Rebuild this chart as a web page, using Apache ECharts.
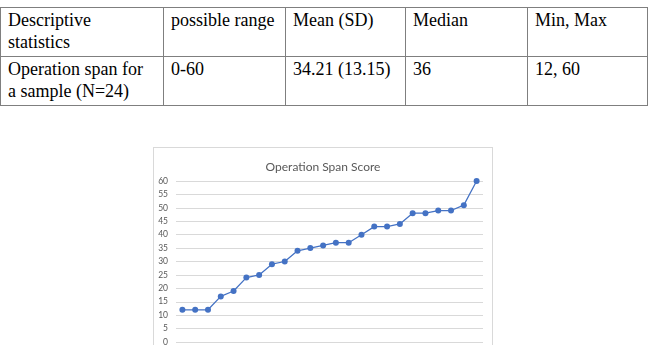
<!DOCTYPE html>
<html>
<head>
<meta charset="utf-8">
<script src="https://cdn.jsdelivr.net/npm/echarts@6/dist/echarts.min.js"></script>
<style>
  html, body { margin: 0; padding: 0; background: #fff; overflow: hidden; width: 657px; height: 345px; }
  #stats { position: absolute; left: 0; top: 7px; border-collapse: collapse; table-layout: fixed;
    font-family: "Liberation Serif", "Times New Roman", serif; font-size: 18px; line-height: 21.5px; color: #000; }
  #stats td { border: 1px solid #7f7f7f; vertical-align: top; padding: 2px 4px 3px 7px; height: 42px;
    white-space: pre-line; }
  #box { position: absolute; left: 153px; top: 147px; width: 338px; height: 212px; border: 1px solid #d9d9d9; }
  #chart { width: 338px; height: 212px; }
</style>
</head>
<body>
<table id="stats">
  <colgroup>
    <col style="width:163px"><col style="width:122px"><col style="width:120px"><col style="width:122px"><col style="width:120px">
  </colgroup>
  <tbody></tbody>
</table>
<div id="box"><div id="chart"></div></div>
<script>
// table text
const headerRow = ['Descriptive\nstatistics', 'possible range', 'Mean (SD)', 'Median', 'Min, Max']
const sampleRow = ['Operation span for\na sample (N=24)', '0-60', '34.21 (13.15)', '36', '12, 60']

// chart data (24 participants, sorted)
const participants = ['1', '2', '3', '4', '5', '6', '7', '8', '9', '10', '11', '12',
  '13', '14', '15', '16', '17', '18', '19', '20', '21', '22', '23', '24']
const spanScores = [12, 12, 12, 17, 19, 24, 25, 29, 30, 34, 35, 36,
  37, 37, 40, 43, 43, 44, 48, 48, 49, 49, 51, 60]

const tbody = document.querySelector('#stats tbody')
;[headerRow, sampleRow].forEach(row => {
  const tr = document.createElement('tr')
  row.forEach(txt => {
    const td = document.createElement('td')
    td.textContent = txt
    tr.appendChild(td)
  })
  tbody.appendChild(tr)
})

const chart = echarts.init(document.getElementById('chart'))
const option = {
  animation: false,
  title: {
    text: 'Operation Span Score',
    left: 'center',
    top: 8,
    textStyle: { fontFamily: 'Lato', fontSize: 12, fontWeight: 'normal', color: '#595959' }
  },
  grid: { left: 22, right: 9, top: 33, height: 161 },
  xAxis: {
    type: 'category',
    data: participants,
    boundaryGap: true,
    axisLine: { show: false },
    axisTick: { show: false },
    axisLabel: { show: false }
  },
  yAxis: {
    type: 'value',
    min: 0,
    max: 60,
    interval: 5,
    axisLine: { show: false },
    axisTick: { show: false },
    axisLabel: { fontFamily: 'Lato', fontSize: 8.5, color: '#595959', margin: 8 },
    splitLine: { lineStyle: { color: '#d9d9d9', width: 1 } }
  },
  series: [{
    type: 'line',
    data: spanScores,
    symbol: 'circle',
    symbolSize: 6,
    lineStyle: { color: '#4472c4', width: 1.25 },
    itemStyle: { color: '#4472c4' }
  }]
}
chart.setOption(option)
</script>
</body>
</html>
